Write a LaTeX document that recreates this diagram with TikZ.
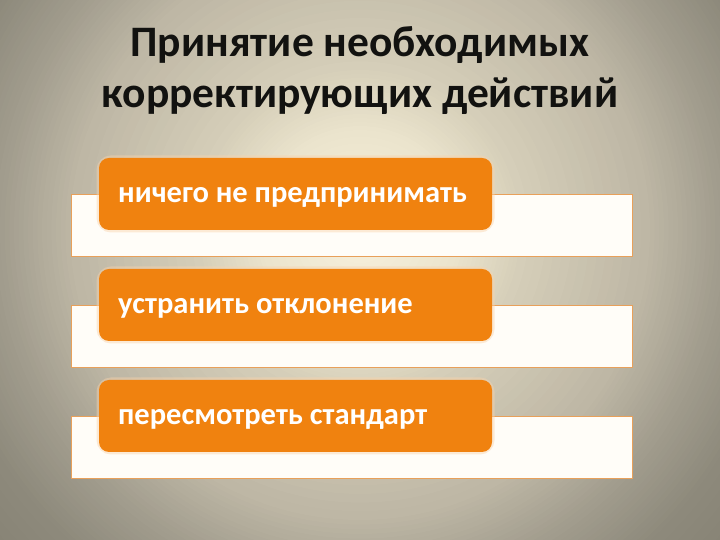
\documentclass[tikz,border=0pt]{standalone}
\usepackage{fontspec}
\setmainfont{Carlito}
\definecolor{boxorange}{RGB}{240,130,15}
\definecolor{rectborder}{RGB}{232,160,90}
\definecolor{rectfill}{RGB}{255,253,248}
\definecolor{titlecol}{RGB}{18,18,16}
\definecolor{bga}{RGB}{248,242,222}
\definecolor{bgb}{RGB}{235,228,205}
\definecolor{bgc}{RGB}{215,208,186}
\definecolor{bgd}{RGB}{190,183,165}
\definecolor{bge}{RGB}{162,157,142}
\definecolor{bgf}{RGB}{141,137,123}
\definecolor{bgg}{RGB}{134,130,116}
\tikzset{
 backrect/.style={draw=rectborder, line width=0.8pt, fill=rectfill, minimum width=561pt, minimum height=62pt, inner sep=0pt},
 orangebox/.style={fill=boxorange, rounded corners=10pt, minimum width=393pt, minimum height=72pt, inner sep=0pt},
 halo/.style={draw=boxorange!35, line width=5pt, opacity=0.45, rounded corners=12pt},
 boxtext/.style={text=white, font=\bfseries\fontsize{30.5}{33}\selectfont, anchor=base west, inner sep=0pt},
 titletext/.style={text=titlecol, font=\bfseries\fontsize{43.5}{51}\selectfont, anchor=base, inner sep=0pt}
}
\begin{document}
\begin{tikzpicture}[x=1pt,y=1pt]
\useasboundingbox (0,0) rectangle (720,540);
\begin{scope}
 \clip (0,0) rectangle (720,540);
 \coordinate (bgc0) at (360,310);
 \foreach \ra/\rb/\ca/\cb in {430/500/bgf/bgg, 360/430/bge/bgf, 290/360/bgd/bge, 160/290/bgc/bgd, 100/160/bgb/bgc, 0/100/bga/bgb}{
   \foreach \i in {0,...,14}{
     \pgfmathsetmacro\rr{\rb-(\rb-\ra)*\i/15}
     \pgfmathtruncatemacro\pp{100*\i/15}
     \fill[color=\ca!\pp!\cb] (bgc0) circle[radius=\rr];
   }
 }
\end{scope}
\node[titletext] (title1) at (360,483) {Принятие необходимых};
\node[titletext] (title2) at (360,432) {корректирующих действий};
% rows
\node[backrect] (r1) at (351.5,315) {};
\node[backrect] (r2) at (351.5,204) {};
\node[backrect] (r3) at (351.5,93) {};
\draw[halo] (99,310) rectangle (492,382);
\draw[halo] (99,199) rectangle (492,271);
\draw[halo] (99,88) rectangle (492,160);
\node[orangebox] (b1) at (295.5,346) {};
\node[orangebox] (b2) at (295.5,235) {};
\node[orangebox] (b3) at (295.5,124) {};
\node[boxtext] (t1) at (118,337) {ничего не предпринимать};
\node[boxtext] (t2) at (118,226) {устранить отклонение};
\node[boxtext] (t3) at (118,115) {пересмотреть стандарт};
\end{tikzpicture}
\end{document}
